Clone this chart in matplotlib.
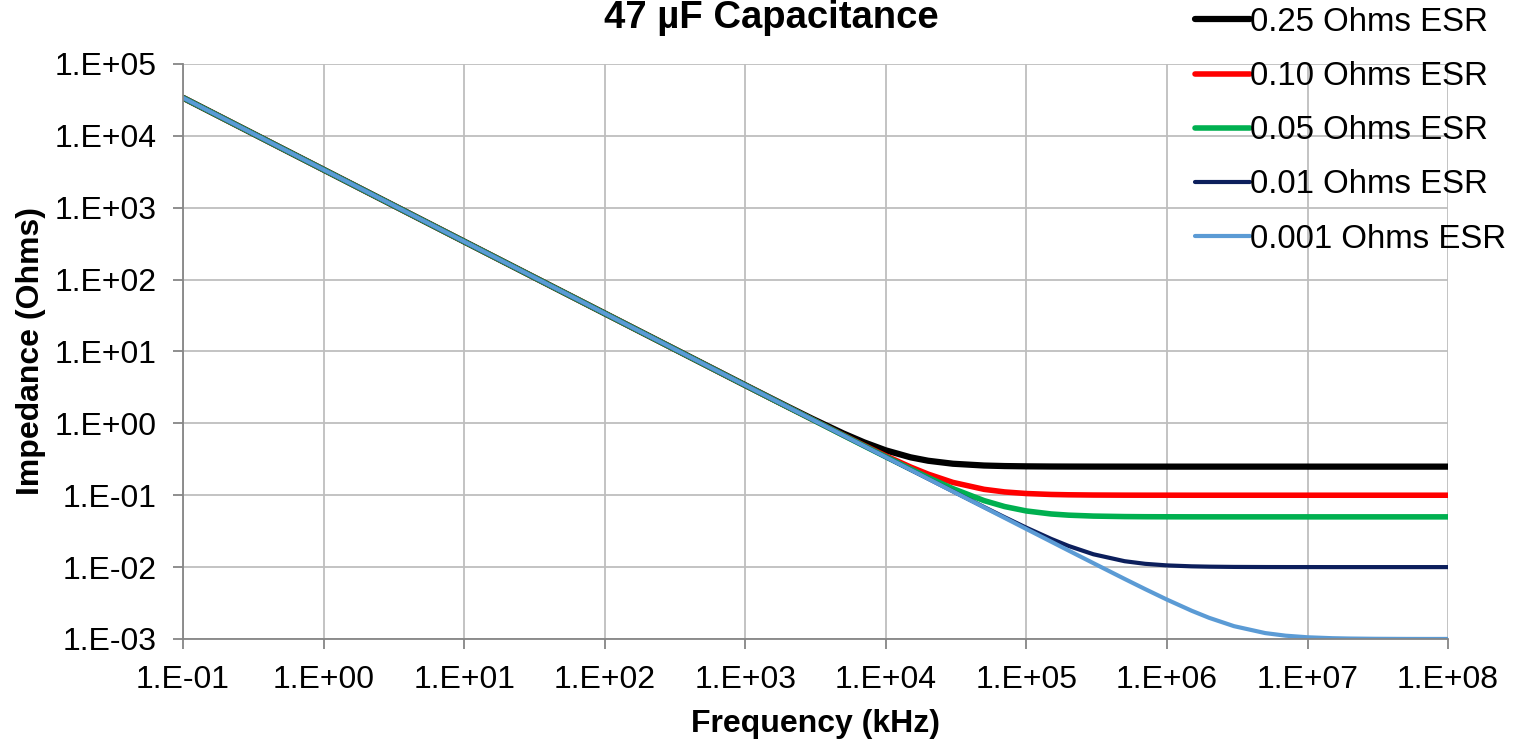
import math
import matplotlib.pyplot as plt
from matplotlib.ticker import FixedLocator, FuncFormatter, NullLocator

plt.rcParams['font.family'] = ['Liberation Sans', 'DejaVu Sans']

# frequency points (kHz) read along the x axis
freq = [1e-1, 1e0, 1e1, 1e2,
        1e3, 1.5e3, 2e3, 3e3, 5e3, 7e3,
        1e4, 1.5e4, 2e4, 3e4, 5e4, 7e4,
        1e5, 1.5e5, 2e5, 3e5, 5e5, 7e5,
        1e6, 1.5e6, 2e6, 3e6, 5e6, 7e6,
        1e7, 1.5e7, 2e7, 3e7, 5e7, 7e7,
        1e8]

# impedance (Ohms)
z_025 = [33863, 3386, 338.6, 33.87,
         3.395, 2.271, 1.711, 1.156, 0.7217, 0.5445,
         0.4209, 0.3368, 0.3019, 0.2743, 0.2590, 0.2546,
         0.2523, 0.2510, 0.2506, 0.2503, 0.2501, 0.2500,
         0.2500, 0.2500, 0.2500, 0.2500, 0.2500, 0.2500,
         0.2500, 0.2500, 0.2500, 0.2500, 0.2500, 0.2500,
         0.2500]
z_010 = [33863, 3386, 338.6, 33.86,
         3.388, 2.260, 1.696, 1.133, 0.6843, 0.4940,
         0.3531, 0.2469, 0.1966, 0.1508, 0.1208, 0.1111,
         0.1056, 0.1025, 0.1014, 0.1006, 0.1002, 0.1001,
         0.1001, 0.1000, 0.1000, 0.1000, 0.1000, 0.1000,
         0.1000, 0.1000, 0.1000, 0.1000, 0.1000, 0.1000,
         0.1000]
z_005 = [33863, 3386, 338.6, 33.86,
         3.386, 2.258, 1.694, 1.130, 0.6788, 0.4863,
         0.3423, 0.2312, 0.1765, 0.1235, 0.08416, 0.06957,
         0.06039, 0.05486, 0.05279, 0.05126, 0.05046, 0.05023,
         0.05012, 0.05005, 0.05003, 0.05001, 0.05000, 0.05000,
         0.05000, 0.05000, 0.05000, 0.05000, 0.05000, 0.05000,
         0.05000]
z_001 = [33863, 3386, 338.6, 33.86,
         3.386, 2.258, 1.693, 1.129, 0.6771, 0.4839,
         0.3388, 0.2260, 0.1696, 0.1133, 0.06843, 0.04940,
         0.03531, 0.02469, 0.01966, 0.01508, 0.01208, 0.01111,
         0.01056, 0.01025, 0.01014, 0.01006, 0.01002, 0.01001,
         0.01001, 0.01000, 0.01000, 0.01000, 0.01000, 0.01000,
         0.01000]
z_0001 = [33863, 3386, 338.6, 33.86,
          3.386, 2.258, 1.693, 1.129, 0.6773, 0.4838,
          0.3386, 0.2258, 0.1693, 0.1129, 0.06773, 0.04839,
          0.03388, 0.02260, 0.01696, 0.01133, 0.006843, 0.004940,
          0.003531, 0.002469, 0.001966, 0.001508, 0.001208, 0.001111,
          0.001056, 0.001025, 0.001014, 0.001006, 0.001002, 0.001001,
          0.001001]

labels = ['0.25 Ohms ESR', '0.10 Ohms ESR', '0.05 Ohms ESR',
          '0.01 Ohms ESR', '0.001 Ohms ESR']
colors = ['#000000', '#FF0000', '#00B050', '#0C1F5C', '#5B9BD5']
widths = [4.5, 4.0, 4.0, 3.0, 3.0]

# decade ticks shown on each axis
x_ticks = [1e-1, 1e0, 1e1, 1e2, 1e3, 1e4, 1e5, 1e6, 1e7, 1e8]
y_ticks = [1e-3, 1e-2, 1e-1, 1e0, 1e1, 1e2, 1e3, 1e4, 1e5]

fig = plt.figure(figsize=(15.19, 7.43), dpi=100)
ax = fig.add_axes([0.1205, 0.1400, 0.8328, 0.7739])

for z, lab, c, w in zip([z_025, z_010, z_005, z_001, z_0001], labels, colors, widths):
    ax.plot(freq, z, color=c, lw=w, label=lab, solid_capstyle='round')

ax.set_xscale('log')
ax.set_yscale('log')
ax.set_xlim(x_ticks[0], x_ticks[-1])
ax.set_ylim(y_ticks[0], y_ticks[-1])
ax.xaxis.set_major_locator(FixedLocator(x_ticks))
ax.yaxis.set_major_locator(FixedLocator(y_ticks))
ax.xaxis.set_minor_locator(NullLocator())
ax.yaxis.set_minor_locator(NullLocator())

fmt = FuncFormatter(lambda v, p: '1.E%+03d' % round(math.log10(v)))
ax.xaxis.set_major_formatter(fmt)
ax.yaxis.set_major_formatter(fmt)

ax.grid(True, color='#BEBEBE', lw=1.3)
ax.set_axisbelow(True)
for s in ['top', 'right']:
    ax.spines[s].set_visible(False)
for s in ['left', 'bottom']:
    ax.spines[s].set_color('#868686')
    ax.spines[s].set_linewidth(1.3)
ax.tick_params(axis='both', length=7, width=1.3, color='#868686',
               labelsize=23, pad=12)
ax.tick_params(axis='y', pad=12)

ax.set_xlabel('Frequency (kHz)', fontsize=23, fontweight='bold', labelpad=10)
ax.set_ylabel('Impedance (Ohms)', fontsize=23, fontweight='bold', labelpad=6)

fig.text(0.508, 1 - 28 / 743, '47 µF Capacitance', fontsize=27.5,
         fontweight='bold', ha='center', va='baseline')

ax.legend(loc='upper left', bbox_to_anchor=(1195 / 1519, 1 - 7 / 743),
          bbox_transform=fig.transFigure, frameon=False, fontsize=23.8,
          handlelength=1.65, handletextpad=0.0, labelspacing=0.7,
          borderpad=0.0, borderaxespad=0.0)

fig.savefig('out.png', dpi=100)
